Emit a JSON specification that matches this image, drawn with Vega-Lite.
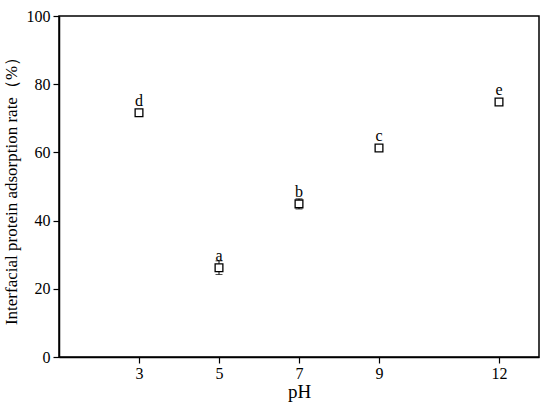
{
  "$schema": "https://vega.github.io/schema/vega-lite/v6.json",
  "width": 480,
  "height": 341,
  "autosize": "none",
  "padding": {"left": 59, "top": 16, "right": 11, "bottom": 49},
  "background": "white",
  "config": {
    "view": {"stroke": "black", "strokeWidth": 1.5},
    "font": "Liberation Serif",
    "axis": {"grid": false, "domainColor": "black", "tickColor": "black", "labelColor": "black", "titleColor": "black", "labelFont": "Liberation Serif", "titleFont": "Liberation Serif", "titleFontWeight": "normal", "domainWidth": 1.5, "tickWidth": 1.2}
  },
  "data": {
    "values": [
      {"pH": 3, "rate": 71.6, "err": 0.8, "label": "d"},
      {"pH": 5, "rate": 26.2, "err": 2.0, "label": "a"},
      {"pH": 7, "rate": 44.9, "err": 1.5, "label": "b"},
      {"pH": 9, "rate": 61.3, "err": 0.7, "label": "c"},
      {"pH": 12, "rate": 74.8, "err": 0.7, "label": "e"}
    ]
  },
  "transform": [
    {"calculate": "datum.rate - datum.err", "as": "lo"},
    {"calculate": "datum.rate + datum.err", "as": "hi"}
  ],
  "layer": [
    {
      "mark": {"type": "rule", "color": "black", "strokeWidth": 1},
      "encoding": {
        "x": {"field": "pH", "type": "quantitative"},
        "y": {"field": "lo", "type": "quantitative"},
        "y2": {"field": "hi"}
      }
    },
    {
      "mark": {"type": "tick", "color": "black", "orient": "horizontal", "size": 7, "thickness": 1},
      "encoding": {
        "x": {"field": "pH", "type": "quantitative"},
        "y": {"field": "lo", "type": "quantitative"}
      }
    },
    {
      "mark": {"type": "tick", "color": "black", "orient": "horizontal", "size": 7, "thickness": 1},
      "encoding": {
        "x": {"field": "pH", "type": "quantitative"},
        "y": {"field": "hi", "type": "quantitative"}
      }
    },
    {
      "mark": {"type": "point", "shape": "square", "size": 60, "filled": true, "fill": "white", "stroke": "black", "strokeWidth": 1.3, "opacity": 1},
      "encoding": {
        "x": {
          "field": "pH", "type": "quantitative",
          "scale": {"domain": [1, 13], "nice": false, "zero": false},
          "axis": {"values": [3, 5, 7, 9, 12], "title": "pH", "labelFont": "Liberation Serif", "labelFontSize": 16, "titleFontSize": 19, "tickSize": 6, "labelPadding": 2, "titlePadding": 1}
        },
        "y": {
          "field": "rate", "type": "quantitative",
          "scale": {"domain": [0, 100], "nice": false},
          "axis": {"values": [0, 10, 20, 30, 40, 50, 60, 70, 80, 90, 100], "labelExpr": "datum.value % 20 == 0 ? datum.label : ''", "title": "Interfacial protein adsorption rate（%）", "labelFont": "Liberation Serif", "titleFont": "Liberation Serif", "labelFontSize": 16, "titleFontSize": 17, "tickSize": 6, "labelPadding": 3, "titlePadding": 6}
        }
      }
    },
    {
      "mark": {"type": "text", "baseline": "alphabetic", "align": "center", "dy": -7, "fontSize": 16, "font": "Liberation Serif", "color": "black"},
      "encoding": {
        "x": {"field": "pH", "type": "quantitative"},
        "y": {"field": "rate", "type": "quantitative"},
        "text": {"field": "label"}
      }
    }
  ]
}
